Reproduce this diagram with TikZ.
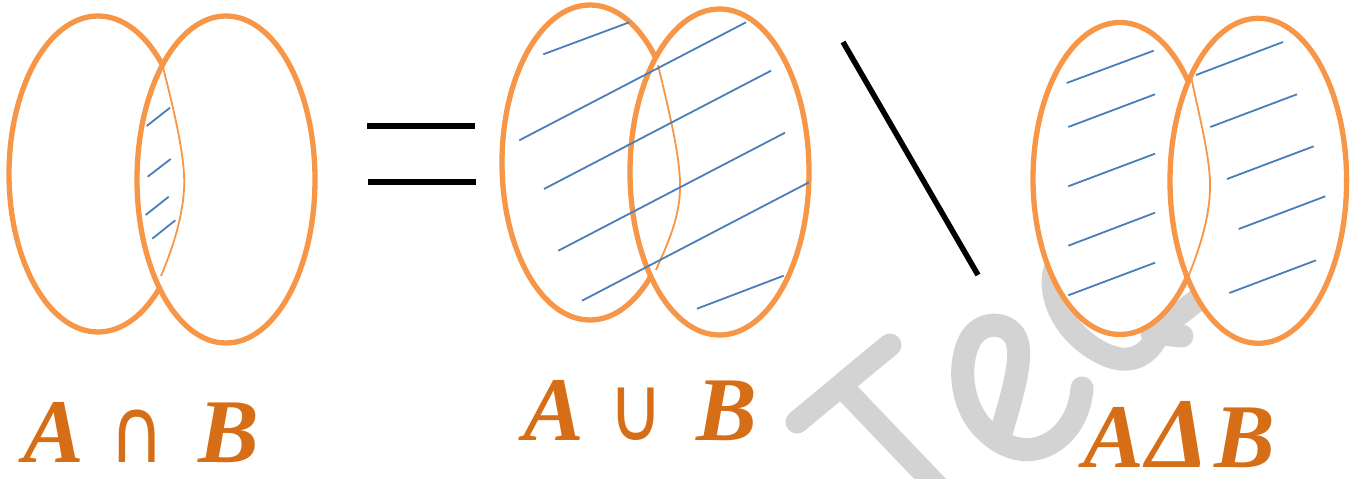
\documentclass[tikz,border=0pt]{standalone}
\usepackage{fontspec}
\setmainfont{Liberation Serif}
\newfontfamily\opfont{DejaVu Sans}
\definecolor{vorange}{RGB}{247,150,70}
\definecolor{hblue}{RGB}{74,126,187}
\definecolor{wmgray}{RGB}{211,211,211}
\definecolor{lblorange}{RGB}{214,110,24}
\begin{document}
\begin{tikzpicture}[x=1pt,y=-1pt,
  setline/.style={draw=vorange,line width=5.3pt,fill=white},
  innerarc/.style={draw=vorange,line width=1.8pt},
  hatch/.style={draw=hblue,line width=1.8pt},
  opsign/.style={draw=black,line width=5.5pt},
  wm/.style={draw=wmgray,line width=23pt,line cap=round,line join=round},
  lbl/.style={text=lblorange,font=\fontsize{91}{91}\selectfont\bfseries\itshape,inner sep=0pt,anchor=base,text depth=0pt},
  sym/.style={text=lblorange,font=\fontsize{84}{84}\selectfont\opfont,inner sep=0pt,anchor=base,text depth=0pt}]
\useasboundingbox (0,0) rectangle (1360,479);
% watermark
\begin{scope}
\clip (0,0) rectangle (1360,479);
\draw[wm] (797,422) .. controls (830,395) and (865,365) .. (890,345);
\draw[wm] (848,393) -- (955,505);
\draw[wm] (1002,430) .. controls (1012,395) and (1026,352) .. (1014,335) .. controls (1003,320) and (978,322) .. (969,342) .. controls (957,368) and (962,408) .. (985,430) .. controls (1000,445) and (1018,452) .. (1035,449) .. controls (1060,444) and (1080,420) .. (1082,388);
\draw[wm] (1100,240) .. controls (1035,240) and (1040,320) .. (1100,352) .. controls (1130,368) and (1148,355) .. (1158,335);
\draw[wm] (1152,333) -- (1182,336);
\draw[wm] (1165,325) -- (1200,298);
\end{scope}
% diagram 1: intersection
\path[setline] (98,174) ellipse [x radius=89, y radius=158];
\path[setline] (226,179.5) ellipse [x radius=89, y radius=163.5];
\draw[innerarc] (163,67) .. controls (175,115) and (186,160) .. (184,190) .. controls (182,220) and (172,250) .. (161,276);
\draw[hatch] (146.7,126) -- (170,107.7);
\draw[hatch] (147.7,176.7) -- (170.7,159);
\draw[hatch] (145.7,215) -- (168.7,196.7);
\draw[hatch] (152.3,238.7) -- (175.3,220.3);
% equals
\draw[opsign] (367,126) -- (475,126);
\draw[opsign] (368,182) -- (476,182);
% diagram 2: union
\path[setline] (590,162.5) ellipse [x radius=88, y radius=157.5];
\path[setline] (719.5,172) ellipse [x radius=89.5, y radius=163];
\draw[innerarc] (658,65) .. controls (670,115) and (681,160) .. (680,190) .. controls (679,220) and (667,245) .. (656,270);
\draw[hatch] (543.3,54.3) -- (629.3,22.3);
\draw[hatch] (519.3,140.3) -- (746,22.3);
\draw[hatch] (544,189) -- (771,70.7);
\draw[hatch] (558.3,250.7) -- (785,132.7);
\draw[hatch] (582,300.7) -- (809,182.3);
\draw[hatch] (697,308.7) -- (783.7,275.7);
% set difference sign
\draw[opsign] (843,42) -- (978,275);
% diagram 3: symmetric difference
\path[setline] (1120,178.5) ellipse [x radius=87, y radius=156];
\path[setline] (1258.3,180.8) ellipse [x radius=88.3, y radius=162.5];
\draw[innerarc] (1190.7,75) .. controls (1200,120) and (1211,160) .. (1210,190) .. controls (1209,220) and (1199,250) .. (1187.7,278);
\draw[hatch] (1066.7,83) -- (1153.7,50.7);
\draw[hatch] (1068.3,127) -- (1155,94.3);
\draw[hatch] (1068.3,186.3) -- (1155,153.7);
\draw[hatch] (1068.3,245.7) -- (1155,212.7);
\draw[hatch] (1068.3,295.3) -- (1155,262.7);
\draw[hatch] (1196,75) -- (1283,42);
\draw[hatch] (1210.3,127) -- (1297,94.3);
\draw[hatch] (1227,179) -- (1313.7,146.3);
\draw[hatch] (1238.7,229) -- (1325.3,196.3);
\draw[hatch] (1229.3,293) -- (1316,260.3);
% labels
\node[lbl] (a1) at (54,462) {A};
\node[sym] (cap1) at (137,462) {\scalebox{0.9}[1.08]{∩}};
\node[lbl] (b1) at (229,462) {B};
\node[lbl] (a2) at (554,440) {A};
\node[sym] (cup2) at (636.5,440) {\scalebox{0.9}[1.08]{∪}};
\node[lbl] (b2) at (727,440) {B};
\node[lbl] (a3) at (1114,467) {A};
\node[lbl] (d3) at (1178,467) {\scalebox{1.1}{Δ}};
\node[lbl] (b3) at (1245,467) {B};
\end{tikzpicture}
\end{document}
